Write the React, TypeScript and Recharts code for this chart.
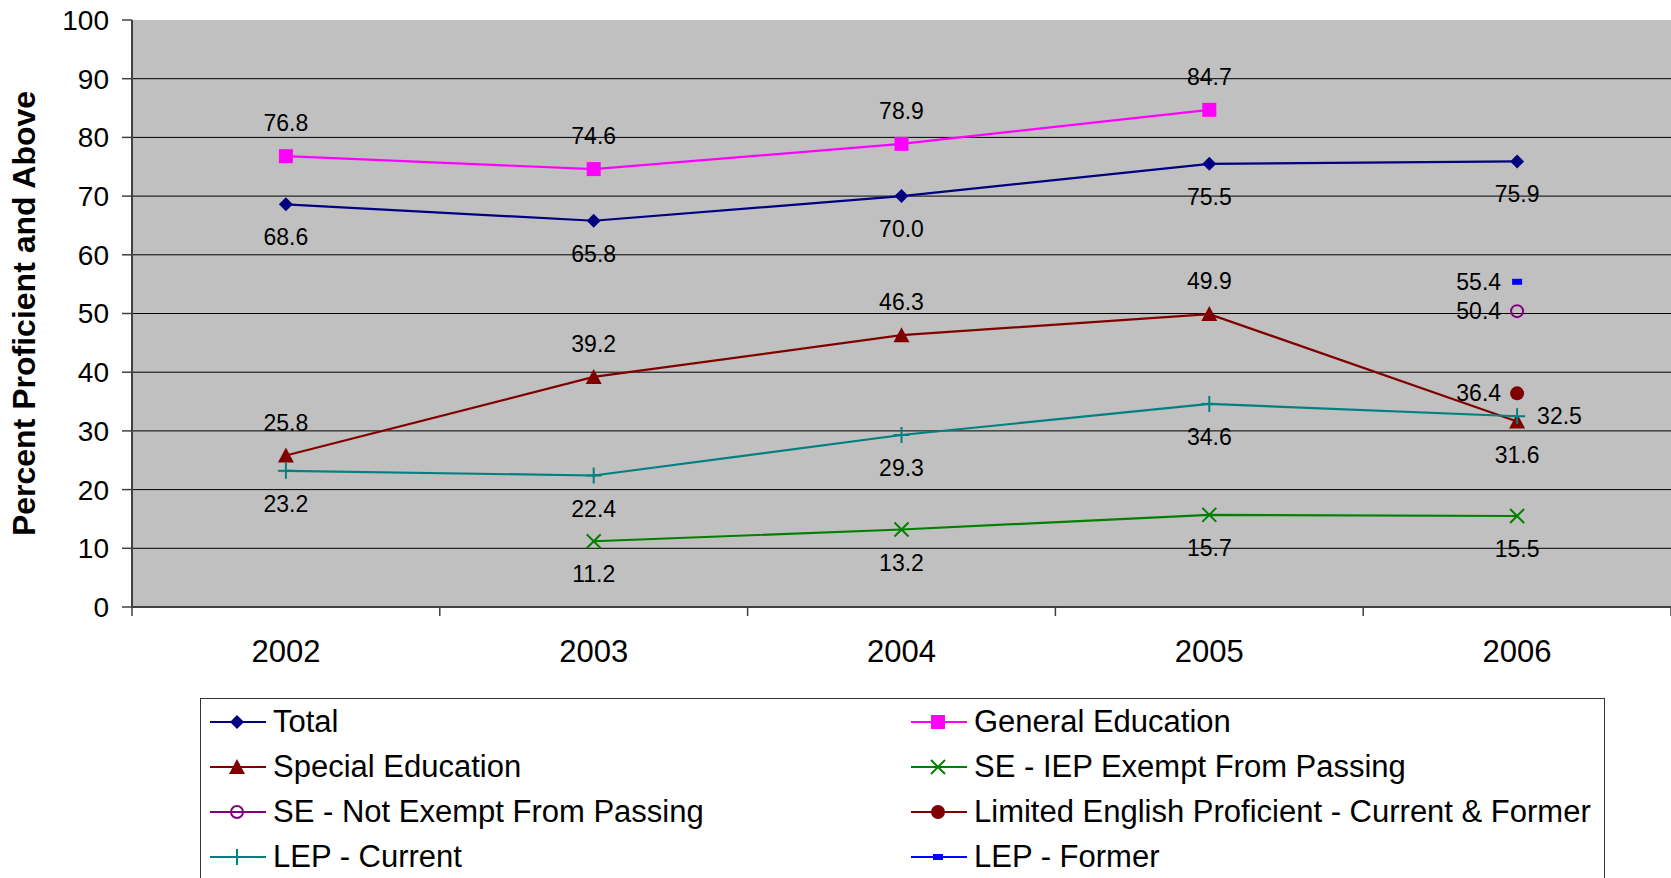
import { LineChart, Line, XAxis, YAxis, CartesianGrid, LabelList } from "recharts";

// categories and values
const years = ["2002", "2003", "2004", "2005", "2006"];
const total = [68.6, 65.8, 70.0, 75.5, 75.9];
const generalEd = [76.8, 74.6, 78.9, 84.7, null];
const specialEd = [25.8, 39.2, 46.3, 49.9, 31.6];
const seIepExempt = [null, 11.2, 13.2, 15.7, 15.5];
const seNotExempt = [null, null, null, null, 50.4];
const lepCurrentFormer = [null, null, null, null, 36.4];
const lepCurrent = [23.2, 22.4, 29.3, 34.6, 32.5];
const lepFormer = [null, null, null, null, 55.4];
const yTicks = [0, 10, 20, 30, 40, 50, 60, 70, 80, 90, 100];
const gridValues = [10, 20, 30, 40, 50, 60, 70, 80, 90];

const FONT = "'Liberation Sans', Arial, sans-serif";

type Shape = "diamond" | "square" | "triangle" | "x" | "circleOpen" | "circle" | "plus" | "dash";
type Pos = "top" | "bottom" | "left" | "right";

const series: {
  key: string;
  name: string;
  values: (number | null)[];
  color: string;
  shape: Shape;
  labelPos: (i: number) => Pos;
}[] = [
  { key: "total", name: "Total", values: total, color: "#000080", shape: "diamond", labelPos: () => "bottom" },
  { key: "generalEd", name: "General Education", values: generalEd, color: "#FF00FF", shape: "square", labelPos: () => "top" },
  { key: "specialEd", name: "Special Education", values: specialEd, color: "#800000", shape: "triangle", labelPos: (i) => (i === 4 ? "bottom" : "top") },
  { key: "seIep", name: "SE - IEP Exempt From Passing", values: seIepExempt, color: "#008000", shape: "x", labelPos: () => "bottom" },
  { key: "seNot", name: "SE - Not Exempt From Passing", values: seNotExempt, color: "#800080", shape: "circleOpen", labelPos: () => "left" },
  { key: "lepCF", name: "Limited English Proficient - Current & Former", values: lepCurrentFormer, color: "#800000", shape: "circle", labelPos: () => "left" },
  { key: "lepCurrent", name: "LEP - Current", values: lepCurrent, color: "#008080", shape: "plus", labelPos: (i) => (i === 4 ? "right" : "bottom") },
  { key: "lepFormer", name: "LEP - Former", values: lepFormer, color: "#0000FF", shape: "dash", labelPos: () => "left" },
];

const data = years.map((year, i) => {
  const row: Record<string, any> = { x: i + 0.5, year };
  series.forEach((s) => (row[s.key] = s.values[i]));
  return row;
});

// boundaries (tick marks) and centres (labels)
const xTicks: number[] = [];
years.forEach((_, i) => xTicks.push(i, i + 0.5));
xTicks.push(years.length);

function Marker({ shape, color, cx, cy }: { shape: Shape; color: string; cx: number; cy: number }) {
  switch (shape) {
    case "diamond":
      return <polygon points={`${cx},${cy - 7} ${cx + 7},${cy} ${cx},${cy + 7} ${cx - 7},${cy}`} fill={color} />;
    case "square":
      return <rect x={cx - 7} y={cy - 7} width={14} height={14} fill={color} />;
    case "triangle":
      return <polygon points={`${cx},${cy - 8} ${cx + 8},${cy + 7} ${cx - 8},${cy + 7}`} fill={color} />;
    case "x":
      return (
        <g stroke={color} strokeWidth={2}>
          <line x1={cx - 7} y1={cy - 7} x2={cx + 7} y2={cy + 7} />
          <line x1={cx - 7} y1={cy + 7} x2={cx + 7} y2={cy - 7} />
        </g>
      );
    case "circleOpen":
      return <circle cx={cx} cy={cy} r={6} fill="none" stroke={color} strokeWidth={2} />;
    case "circle":
      return <circle cx={cx} cy={cy} r={7} fill={color} />;
    case "plus":
      return (
        <g stroke={color} strokeWidth={2}>
          <line x1={cx - 8} y1={cy} x2={cx + 8} y2={cy} />
          <line x1={cx} y1={cy - 8} x2={cx} y2={cy + 8} />
        </g>
      );
    case "dash":
      return <rect x={cx - 5} y={cy - 3} width={10} height={6} fill={color} />;
  }
  return null;
}

function XTick(props: any) {
  const { x, y, payload } = props;
  const v = payload.value as number;
  if (Number.isInteger(v)) {
    return <line x1={x} x2={x} y1={y} y2={y + 9} stroke="#404040" strokeWidth={1.5} />;
  }
  return (
    <text x={x} y={y + 44} textAnchor="middle" dominantBaseline="central" fontSize={31} fontFamily={FONT} fill="#000">
      {years[Math.floor(v)]}
    </text>
  );
}

function makeLabel(pos: (i: number) => Pos) {
  return (props: any) => {
    const { x, y, value, index } = props;
    if (value == null || x == null || y == null) return null;
    const p = pos(index);
    let tx = x;
    let ty = y;
    let anchor: "middle" | "end" | "start" = "middle";
    if (p === "top") ty = y - 33;
    if (p === "bottom") ty = y + 33;
    if (p === "left") {
      tx = x - 16;
      anchor = "end";
    }
    if (p === "right") {
      tx = x + 20;
      anchor = "start";
    }
    return (
      <text x={tx} y={ty} textAnchor={anchor} dominantBaseline="central" fontSize={23} fontFamily={FONT} fill="#000">
        {Number(value).toFixed(1)}
      </text>
    );
  };
}

function LegendIcon({ shape, color }: { shape: Shape; color: string }) {
  return (
    <svg width={58} height={20} style={{ display: "block" }}>
      <line x1={1} x2={57} y1={10} y2={10} stroke={color} strokeWidth={2} />
      <Marker shape={shape} color={color} cx={28} cy={10} />
    </svg>
  );
}

export default function App() {
  return (
    <div style={{ position: "relative", width: 1671, height: 878, background: "#fff", overflow: "hidden" }}>
      <style>{"body{margin:0}"}</style>
      <LineChart width={1671} height={878} data={data} margin={{ top: 20, right: 0, bottom: 0, left: 0 }}>
        <CartesianGrid
          vertical={false}
          horizontalValues={gridValues}
          stroke="#000"
          strokeWidth={1}
          fill="#C0C0C0"
          fillOpacity={1}
        />
        <XAxis
          type="number"
          dataKey="x"
          domain={[0, years.length]}
          ticks={xTicks}
          interval={0}
          height={271}
          tickSize={0}
          tickMargin={0}
          tickLine={false}
          axisLine={{ stroke: "#404040", strokeWidth: 2 }}
          tick={<XTick />}
        />
        <YAxis
          domain={[0, 100]}
          ticks={yTicks}
          interval={0}
          width={132}
          tickSize={10}
          tickMargin={13}
          axisLine={{ stroke: "#404040", strokeWidth: 2 }}
          tickLine={{ stroke: "#404040", strokeWidth: 1.5 }}
          tick={{ fontSize: 28, fontFamily: FONT, fill: "#000" }}
          label={{
            content: (p: any) => {
              const vb = p.viewBox;
              const cy = vb.y + vb.height / 2;
              return (
                <text
                  x={24}
                  y={cy}
                  transform={`rotate(-90, 24, ${cy})`}
                  textAnchor="middle"
                  dominantBaseline="central"
                  fontSize={32}
                  fontWeight="bold"
                  fontFamily={FONT}
                  fill="#000"
                >
                  Percent Proficient and Above
                </text>
              );
            },
          }}
        />
        {series.map((s) => (
          <Line
            key={s.key}
            dataKey={s.key}
            name={s.name}
            stroke={s.color}
            strokeWidth={2.2}
            isAnimationActive={false}
            dot={(p: any) =>
              p.cx == null || p.cy == null || p.value == null ? (
                <g key={p.key} />
              ) : (
                <Marker key={p.key} shape={s.shape} color={s.color} cx={p.cx} cy={p.cy} />
              )
            }
            activeDot={false}
          >
            <LabelList dataKey={s.key} content={makeLabel(s.labelPos)} />
          </Line>
        ))}
      </LineChart>
      <div
        style={{
          position: "absolute",
          left: 200,
          top: 698,
          width: 1405,
          height: 182,
          border: "1px solid #333",
          boxSizing: "border-box",
          fontFamily: FONT,
          fontSize: 31,
          color: "#000",
        }}
      >
        {series.map((s, i) => (
          <div
            key={s.key}
            style={{
              position: "absolute",
              left: i % 2 === 0 ? 8 : 709,
              top: 23 + Math.floor(i / 2) * 45 - 20,
              height: 40,
              display: "flex",
              alignItems: "center",
              whiteSpace: "nowrap",
            }}
          >
            <LegendIcon shape={s.shape} color={s.color} />
            <span style={{ marginLeft: 6 }}>{s.name}</span>
          </div>
        ))}
      </div>
    </div>
  );
}
